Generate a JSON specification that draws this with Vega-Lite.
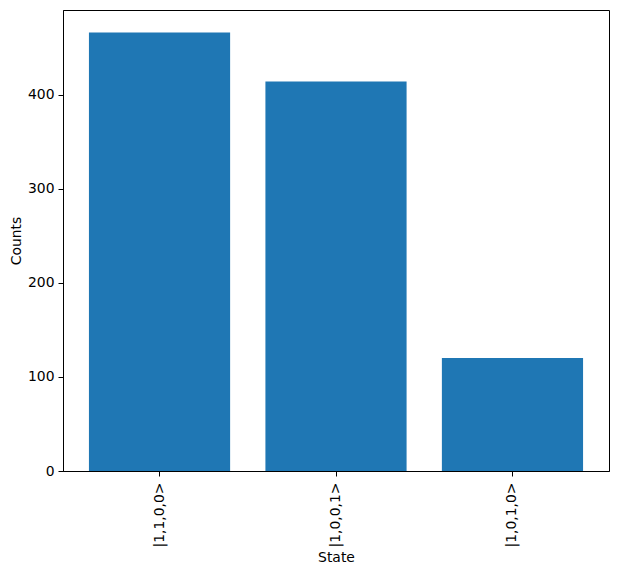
{
  "$schema": "https://vega.github.io/schema/vega-lite/v6.json",
  "autosize": {"type": "none"},
  "padding": {"left": 63, "top": 10, "right": 9, "bottom": 104},
  "width": 546,
  "height": 461,
  "background": "white",
  "config": {
    "font": "DejaVu Sans",
    "view": {"stroke": "black", "strokeWidth": 1},
    "axis": {
      "labelFont": "DejaVu Sans",
      "titleFont": "DejaVu Sans",
      "labelFontSize": 13.9,
      "titleFontSize": 13.9,
      "titleFontWeight": "normal",
      "labelColor": "black",
      "titleColor": "black",
      "tickColor": "black",
      "domainColor": "black",
      "tickSize": 5,
      "labelPadding": 4,
      "grid": false
    }
  },
  "data": {
    "values": [
      {"state": "|1,1,0,0>", "counts": 466},
      {"state": "|1,0,0,1>", "counts": 414},
      {"state": "|1,0,1,0>", "counts": 120}
    ]
  },
  "mark": {"type": "bar", "color": "#1f77b4"},
  "encoding": {
    "x": {
      "field": "state",
      "type": "nominal",
      "sort": null,
      "title": "State",
      "scale": {"paddingInner": 0.2, "paddingOuter": 0.147},
      "axis": {"labelAngle": -90, "labelPadding": 6, "titlePadding": 4}
    },
    "y": {
      "field": "counts",
      "type": "quantitative",
      "title": "Counts",
      "scale": {"domain": [0, 490], "nice": false},
      "axis": {"values": [0, 100, 200, 300, 400], "titlePadding": 4}
    }
  }
}
